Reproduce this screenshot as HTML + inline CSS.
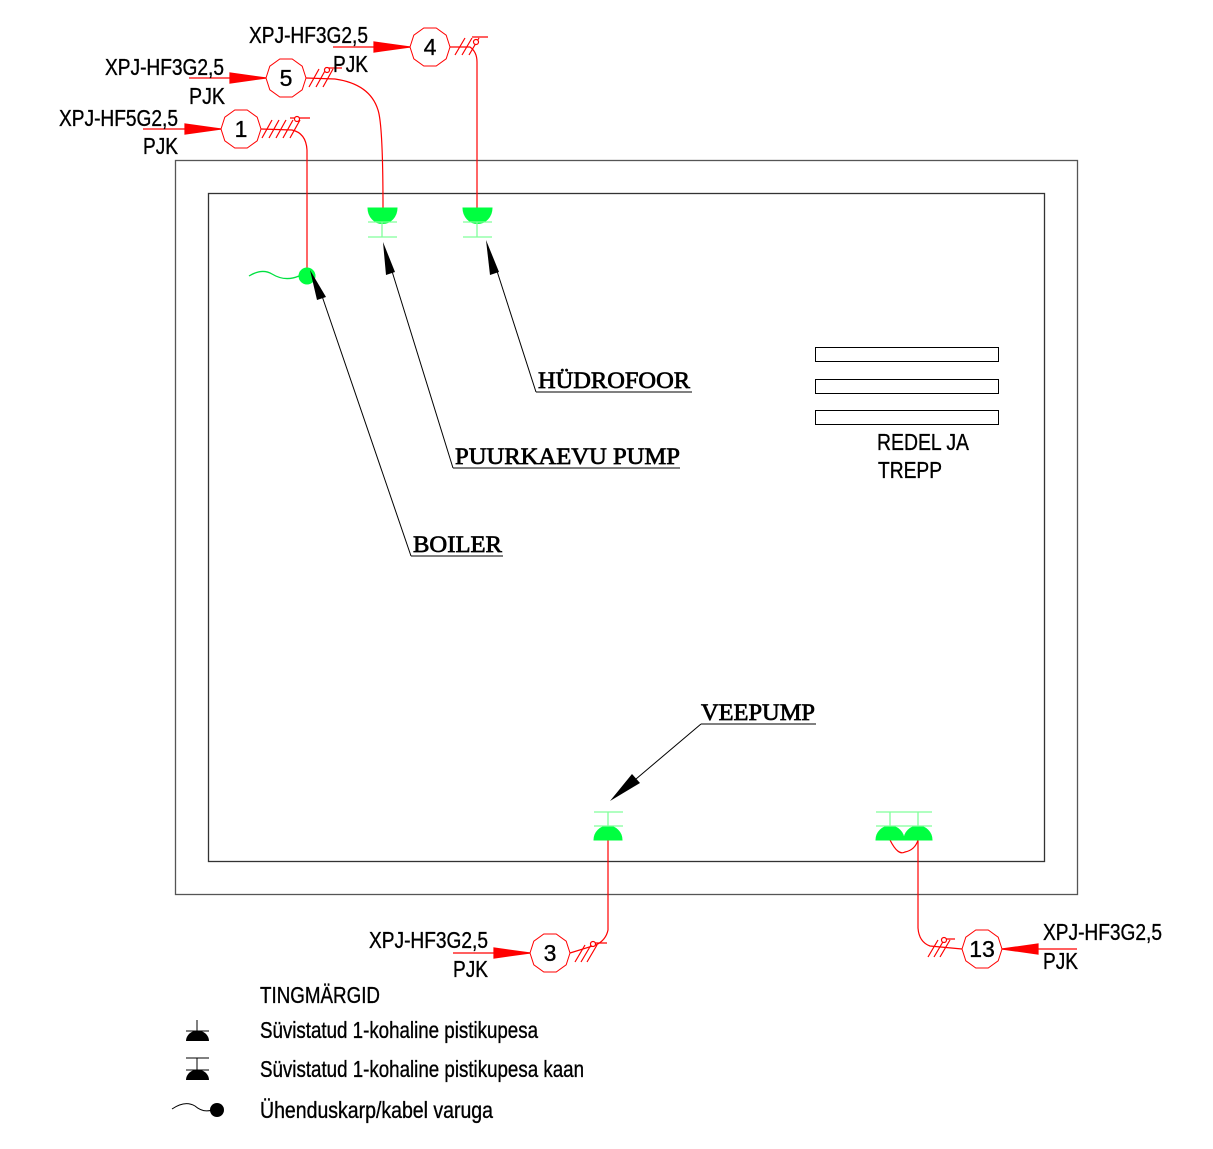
<!DOCTYPE html>
<html><head><meta charset="utf-8"><style>
html,body{margin:0;padding:0;background:#fff;}
svg{display:block;}
.s{font-family:"Liberation Sans",sans-serif;font-size:23px;fill:#000;stroke:#000;stroke-width:0.35;}
.r{font-family:"Liberation Serif",serif;font-size:23px;fill:#000;stroke:#000;stroke-width:0.7;}
</style></head><body>
<svg width="1213" height="1149" viewBox="0 0 1213 1149" xmlns="http://www.w3.org/2000/svg">
<defs>
<polygon id="oct" points="20,0 16.2,11.8 6.2,19 -6.2,19 -16.2,11.8 -20,0 -16.2,-11.8 -6.2,-19 6.2,-19 16.2,-11.8" fill="#fff" stroke="#f00" stroke-width="1"/>
</defs>
<rect x="175.5" y="160.5" width="902" height="734" fill="none" stroke="#555" stroke-width="1.3"/>
<rect x="208.5" y="193.5" width="836" height="668" fill="none" stroke="#333" stroke-width="1.3"/>
<g fill="none" stroke="#000" stroke-width="1">
<rect x="815.5" y="347.5" width="183" height="14"/>
<rect x="815.5" y="379.5" width="183" height="14"/>
<rect x="815.5" y="410.5" width="183" height="14"/>
</g>
<text class="s" x="877" y="450" textLength="92" lengthAdjust="spacingAndGlyphs">REDEL JA</text>
<text class="s" x="878" y="478" textLength="64" lengthAdjust="spacingAndGlyphs">TREPP</text>

<g fill="none" stroke="#f00" stroke-width="1.2">
<path d="M261,129 L292,130 Q306,133 307,150 L307,276"/>
<path d="M306,78 L335,79 Q370,84 378,110 Q383,125 383,208"/>
<path d="M450,47 L470,47 Q477,52 477,62 L477,208"/>
<path d="M608,840 L608,930 Q606,940 596,945 L570,953"/>
<path d="M918,840 L918,928 Q919,942 930,946 L962,949"/>
<path d="M890,840 Q898,856 905,852 Q915,850 918,840"/>
<path d="M262,138 L272,120 M269,138 L279,120 M276,138 L286,120 M283,138 L293,120 M290,138 L300,120 M290,118 L310,118"/>
<path d="M309,87 L319,69 M316,87 L326,69 M323,87 L333,69 M325,68 L342,68"/>
<path d="M455,55 L465,38 M462,55 L472,38 M469,55 L479,38 M472,37 L488,37"/>
<path d="M575,962 L585,945 M581,962 L591,945 M587,962 L597,945 M592,943 L607,943"/>
<path d="M928,957 L938,940 M934,957 L944,940 M940,957 L950,940 M943,939 L955,939"/>
</g>
<g fill="#fff" stroke="#f00" stroke-width="1.2">
<circle cx="297" cy="119" r="2.5"/><circle cx="327" cy="70" r="2.5"/><circle cx="476" cy="42" r="2.5"/>
<circle cx="593" cy="944" r="2.5"/><circle cx="944" cy="940" r="2.5"/>
</g>
<g stroke="#f00" stroke-width="1.2" fill="#f00">
<line x1="143" y1="129" x2="221" y2="129"/><polygon points="185,124 221,129 185,134"/>
<line x1="189" y1="78" x2="266" y2="78"/><polygon points="230,73 266,78 230,83"/>
<line x1="333" y1="47" x2="410" y2="47"/><polygon points="374,42 410,47 374,52"/>
<line x1="453" y1="953" x2="530" y2="953"/><polygon points="494,948 530,953 494,958"/>
<line x1="1002" y1="949" x2="1077" y2="949"/><polygon points="1038,944 1002,949 1038,954"/>
</g>
<use href="#oct" x="241" y="129"/><use href="#oct" x="286" y="78"/><use href="#oct" x="430" y="47"/>
<use href="#oct" x="550" y="953"/><use href="#oct" x="982" y="949"/>
<g class="s" text-anchor="middle" style="font-size:23px">
<text x="241" y="137">1</text><text x="286" y="86">5</text><text x="430" y="55">4</text>
<text x="550" y="961">3</text><text x="982" y="957">13</text>
</g>
<g class="s">
<text x="59" y="126" textLength="119" lengthAdjust="spacingAndGlyphs">XPJ-HF5G2,5</text><text x="143" y="154" textLength="35" lengthAdjust="spacingAndGlyphs">PJK</text>
<text x="105" y="75" textLength="119" lengthAdjust="spacingAndGlyphs">XPJ-HF3G2,5</text><text x="189" y="104" textLength="36" lengthAdjust="spacingAndGlyphs">PJK</text>
<text x="249" y="43" textLength="119" lengthAdjust="spacingAndGlyphs">XPJ-HF3G2,5</text><text x="333" y="72" textLength="35" lengthAdjust="spacingAndGlyphs">PJK</text>
<text x="369" y="948" textLength="119" lengthAdjust="spacingAndGlyphs">XPJ-HF3G2,5</text><text x="453" y="977" textLength="35" lengthAdjust="spacingAndGlyphs">PJK</text>
<text x="1043" y="940" textLength="119" lengthAdjust="spacingAndGlyphs">XPJ-HF3G2,5</text><text x="1043" y="969" textLength="35" lengthAdjust="spacingAndGlyphs">PJK</text>
</g>

<g fill="#00ff40" stroke="#00ff40">
<path d="M368,208 A14,15 0 0 0 397,208 Z"/>
<path d="M463,208 A14,15 0 0 0 492,208 Z"/>
<path d="M594,840 A14,14 0 0 1 622,840 Z"/>
<path d="M876,840 A14,14 0 0 1 904,840 Z"/>
<path d="M904,840 A14,14 0 0 1 932,840 Z"/>
<circle cx="307" cy="276" r="8"/>
</g>
<g stroke="#80ff9a" stroke-width="1.3" fill="none">
<path d="M368,222 H397 M382,222 V237 M368,237 H397"/>
<path d="M463,222 H492 M477,222 V237 M463,237 H492"/>
<path d="M594,812 H623 M608,812 V826 M594,826 H623"/>
<path d="M876,812 H932 M876,826 H932 M890,812 V826 M918,812 V826"/>
<path d="M249,276 Q262,268 272,274 Q285,282 299,276" stroke="#00e040"/>
</g>

<g stroke="#000" stroke-width="1" fill="none">
<path d="M536,392 L496,268 M536,392 H692"/>
<path d="M453,468 L391,268 M453,468 H680"/>
<path d="M411,556 L322,296 M411,556 H503"/>
<path d="M701,724 L636,779 M701,724 H816"/>
</g>
<g fill="#000">
<polygon points="486,240 499,272 490,275"/>
<polygon points="383,242 395,272 386,275"/>
<polygon points="310,270 326,297 317,300"/>
<polygon points="610,801 632,774 640,783"/>
</g>
<text class="r" x="538" y="388" textLength="152" lengthAdjust="spacingAndGlyphs">HÜDROFOOR</text>
<text class="r" x="455" y="464" textLength="225" lengthAdjust="spacingAndGlyphs">PUURKAEVU PUMP</text>
<text class="r" x="413" y="552" textLength="89" lengthAdjust="spacingAndGlyphs">BOILER</text>
<text class="r" x="701" y="720" textLength="114" lengthAdjust="spacingAndGlyphs">VEEPUMP</text>

<text class="s" x="260" y="1003" textLength="120" lengthAdjust="spacingAndGlyphs">TINGMÄRGID</text>
<text class="s" x="260" y="1038" textLength="278" lengthAdjust="spacingAndGlyphs">Süvistatud 1-kohaline pistikupesa</text>
<text class="s" x="260" y="1077" textLength="324" lengthAdjust="spacingAndGlyphs">Süvistatud 1-kohaline pistikupesa kaan</text>
<text class="s" x="260" y="1118" textLength="233" lengthAdjust="spacingAndGlyphs">Ühenduskarp/kabel varuga</text>
<g stroke="#000" stroke-width="1" fill="none">
<path d="M197,1020 V1031 M186,1031 H209"/>
<path d="M186,1058 H209 M197,1058 V1070 M186,1070 H209"/>
<path d="M172,1109 Q185,1100 195,1106 Q203,1113 212,1110"/>
</g>
<g fill="#000">
<path d="M186,1041 A11,10 0 0 1 209,1041 Z"/>
<path d="M186,1080 A11,10 0 0 1 209,1080 Z"/>
<circle cx="217" cy="1110" r="7"/>
</g>
</svg>
</body></html>
